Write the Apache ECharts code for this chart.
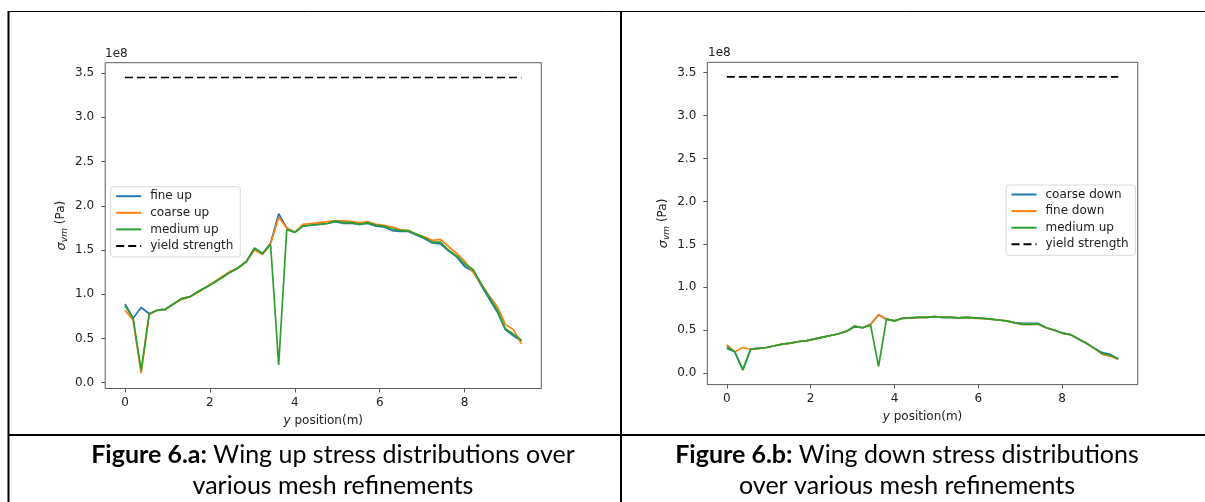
<!DOCTYPE html>
<html>
<head>
<meta charset="utf-8">
<script src="https://cdn.jsdelivr.net/npm/echarts@6/dist/echarts.min.js"></script>
<style>
html, body { margin: 0; padding: 0; background: #fff; }
#chart { width: 1205px; height: 502px; }
</style>
</head>
<body>
<div id="chart"></div>
<script>
// span positions (m)
const yPos = [0, 0.19, 0.38, 0.57, 0.76, 0.95, 1.14, 1.33, 1.52, 1.72,
  1.91, 2.10, 2.29, 2.48, 2.67, 2.86, 3.05, 3.24, 3.43, 3.62,
  3.81, 4.00, 4.19, 4.38, 4.57, 4.77, 4.96, 5.15, 5.34, 5.53,
  5.72, 5.91, 6.10, 6.29, 6.48, 6.67, 6.86, 7.05, 7.24, 7.43,
  7.62, 7.82, 8.01, 8.20, 8.39, 8.58, 8.77, 8.96, 9.15, 9.34]

// von Mises stress, in units of 1e8 Pa
const fineUp = [0.89, 0.73, 0.85, 0.78, 0.82, 0.83, 0.89, 0.95, 0.97, 1.03,
  1.08, 1.14, 1.19, 1.25, 1.30, 1.37, 1.52, 1.46, 1.58, 1.91,
  1.75, 1.70, 1.77, 1.78, 1.79, 1.80, 1.82, 1.80, 1.80, 1.79,
  1.80, 1.77, 1.76, 1.72, 1.71, 1.71, 1.67, 1.63, 1.58, 1.57,
  1.49, 1.42, 1.31, 1.26, 1.10, 0.95, 0.80, 0.60, 0.53, 0.47]
const coarseUp = [0.82, 0.71, 0.11, 0.77, 0.82, 0.83, 0.89, 0.94, 0.97, 1.02,
  1.08, 1.14, 1.20, 1.26, 1.30, 1.37, 1.50, 1.45, 1.57, 1.87,
  1.75, 1.70, 1.79, 1.80, 1.81, 1.82, 1.83, 1.83, 1.82, 1.81,
  1.82, 1.79, 1.78, 1.76, 1.73, 1.72, 1.68, 1.65, 1.61, 1.62,
  1.54, 1.46, 1.37, 1.25, 1.12, 0.98, 0.86, 0.66, 0.60, 0.44]
const mediumUp = [0.87, 0.73, 0.14, 0.78, 0.82, 0.83, 0.89, 0.95, 0.97, 1.03,
  1.08, 1.13, 1.19, 1.25, 1.30, 1.37, 1.52, 1.46, 1.56, 0.20,
  1.73, 1.70, 1.77, 1.78, 1.79, 1.80, 1.83, 1.81, 1.81, 1.79,
  1.81, 1.78, 1.77, 1.74, 1.72, 1.72, 1.68, 1.64, 1.59, 1.59,
  1.50, 1.43, 1.34, 1.28, 1.12, 0.97, 0.82, 0.61, 0.55, 0.48]

const coarseDown = [0.29, 0.25, 0.04, 0.28, 0.29, 0.30, 0.32, 0.34, 0.35, 0.37,
  0.38, 0.40, 0.42, 0.44, 0.46, 0.49, 0.54, 0.53, 0.57, 0.68,
  0.63, 0.61, 0.64, 0.645, 0.65, 0.65, 0.66, 0.65, 0.65, 0.645,
  0.65, 0.645, 0.64, 0.63, 0.62, 0.61, 0.59, 0.58, 0.58, 0.58,
  0.53, 0.50, 0.47, 0.45, 0.40, 0.35, 0.29, 0.24, 0.22, 0.165]
const fineDown = [0.33, 0.25, 0.30, 0.28, 0.29, 0.30, 0.32, 0.34, 0.35, 0.37,
  0.38, 0.40, 0.42, 0.44, 0.46, 0.49, 0.55, 0.53, 0.57, 0.68,
  0.63, 0.61, 0.64, 0.645, 0.65, 0.65, 0.66, 0.65, 0.65, 0.645,
  0.65, 0.64, 0.64, 0.63, 0.62, 0.61, 0.59, 0.57, 0.57, 0.57,
  0.53, 0.50, 0.465, 0.45, 0.40, 0.35, 0.29, 0.22, 0.20, 0.165]
const mediumDown = [0.31, 0.25, 0.04, 0.28, 0.29, 0.30, 0.32, 0.34, 0.35, 0.37,
  0.38, 0.40, 0.42, 0.44, 0.46, 0.49, 0.55, 0.53, 0.56, 0.08,
  0.63, 0.61, 0.64, 0.645, 0.65, 0.65, 0.66, 0.65, 0.65, 0.645,
  0.65, 0.645, 0.64, 0.63, 0.62, 0.61, 0.59, 0.57, 0.57, 0.575,
  0.53, 0.50, 0.465, 0.45, 0.40, 0.35, 0.29, 0.23, 0.21, 0.165]

const yieldStrength = 3.45
const xTicks = [0, 2, 4, 6, 8]
const yTicks = [0, 0.5, 1, 1.5, 2, 2.5, 3, 3.5]

const blue = '#1f77b4'
const orange = '#ff7f0e'
const green = '#2ca02c'
const ink = '#222'

const pairs = (vals) => yPos.map((x, i) => [x, vals[i]])
const yieldLine = [[yPos[0], yieldStrength], [yPos[yPos.length - 1], yieldStrength]]

const myChart = echarts.init(document.getElementById('chart'))

const makeX = (gridIndex) => ({
  type: 'value',
  gridIndex,
  min: -0.467,
  max: 9.807,
  splitLine: { show: false },
  axisLine: { show: false, onZero: false },
  axisTick: { show: true, customValues: xTicks, length: 4, lineStyle: { color: '#333', width: 0.8 } },
  axisLabel: { customValues: xTicks, margin: 8, color: ink, fontSize: 12, fontFamily: 'DejaVu Sans' },
  name: '{i|y} position(m)',
  nameLocation: 'middle',
  nameGap: 26,
  nameTextStyle: {
    color: ink,
    fontSize: 12,
    fontFamily: 'DejaVu Sans',
    rich: { i: { fontStyle: 'italic', fontSize: 12, fontFamily: 'DejaVu Sans', color: ink } },
  },
})

const makeY = (gridIndex, min, max) => ({
  type: 'value',
  gridIndex,
  min,
  max,
  splitLine: { show: false },
  axisLine: { show: false, onZero: false },
  axisTick: { show: true, customValues: yTicks, length: 4, lineStyle: { color: '#333', width: 0.8 } },
  axisLabel: {
    customValues: yTicks,
    margin: 11,
    color: ink,
    fontSize: 12,
    fontFamily: 'DejaVu Sans',
    formatter: (v) => v.toFixed(1),
  },
  name: '{s|σ}{sub|vm} (Pa)',
  nameLocation: 'middle',
  nameRotate: 90,
  nameGap: 36,
  nameTextStyle: {
    color: ink,
    fontSize: 12,
    fontFamily: 'DejaVu Sans',
    rich: {
      s: { fontStyle: 'italic', fontSize: 13, fontFamily: 'DejaVu Sans', color: ink, lineHeight: 16 },
      sub: { fontStyle: 'italic', fontSize: 9, fontFamily: 'DejaVu Sans', color: ink, verticalAlign: 'bottom', lineHeight: 10 },
    },
  },
})

const lineSeries = (name, color, vals, idx) => ({
  name,
  type: 'line',
  xAxisIndex: idx,
  yAxisIndex: idx,
  data: pairs(vals),
  symbol: 'none',
  animation: false,
  lineStyle: { color, width: 1.7 },
  itemStyle: { color },
})

const yieldSeries = (idx) => ({
  name: 'yield strength',
  type: 'line',
  xAxisIndex: idx,
  yAxisIndex: idx,
  data: yieldLine,
  symbol: 'none',
  animation: false,
  lineStyle: { color: '#000', width: 1.7, type: [8, 4] },
  itemStyle: { color: '#000' },
})

const legendBase = {
  orient: 'vertical',
  itemWidth: 25,
  itemHeight: 14,
  itemGap: 4.6,
  padding: [3.5, 7, 5, 4.5],
  borderColor: '#d9d9d9',
  borderWidth: 1,
  borderRadius: 3,
  backgroundColor: 'rgba(255,255,255,0.8)',
  selectedMode: false,
  itemStyle: { opacity: 0 },
  textStyle: { color: ink, fontSize: 12, fontFamily: 'DejaVu Sans', padding: [0, 0, 0, 4] },
}

const tableLine = (x1, y1, x2, y2, w) => ({
  type: 'line',
  shape: { x1, y1, x2, y2 },
  style: { stroke: '#000', lineWidth: w },
  silent: true,
})

const caption = (x, bold, rest1, rest2) => ({
  type: 'text',
  x,
  y: 470,
  silent: true,
  style: {
    text: `{b|${bold}}{n|${rest1}}\n{n|${rest2}}`,
    align: 'center',
    verticalAlign: 'middle',
    rich: {
      b: { fontFamily: 'Lato', fontWeight: 'bold', fontSize: 25, fill: '#000', lineHeight: 31 },
      n: { fontFamily: 'Lato', fontSize: 25, fill: '#000', lineHeight: 31 },
    },
  },
})

const option = {
  backgroundColor: '#fff',
  animation: false,
  grid: [
    { left: 105.2, top: 62.7, width: 436.1, height: 325.8, show: true, borderColor: '#333', borderWidth: 0.8, outerBoundsMode: 'none' },
    { left: 707.3, top: 62.3, width: 430.5, height: 322.3, show: true, borderColor: '#333', borderWidth: 0.8, outerBoundsMode: 'none' },
  ],
  xAxis: [makeX(0), makeX(1)],
  yAxis: [makeY(0, -0.065, 3.617), makeY(1, -0.132, 3.62)],
  legend: [
    Object.assign({}, legendBase, { left: 110.7, top: 186.7, data: ['fine up', 'coarse up', 'medium up', 'yield strength'] }),
    Object.assign({}, legendBase, { left: 1006, top: 185, data: ['coarse down', 'fine down', 'medium up', 'yield strength'] }),
  ],
  series: [
    lineSeries('fine up', blue, fineUp, 0),
    lineSeries('coarse up', orange, coarseUp, 0),
    lineSeries('medium up', green, mediumUp, 0),
    yieldSeries(0),
    lineSeries('coarse down', blue, coarseDown, 1),
    lineSeries('fine down', orange, fineDown, 1),
    lineSeries('medium up', green, mediumDown, 1),
    yieldSeries(1),
  ],
  graphic: [
    tableLine(8, 11.5, 1205, 11.5, 1),
    tableLine(8.5, 11, 8.5, 502, 2),
    tableLine(621, 11, 621, 502, 2),
    tableLine(8, 435, 1205, 435, 2),
    { type: 'text', x: 105, y: 48, silent: true, style: { text: '1e8', fill: ink, font: '12px "DejaVu Sans"' } },
    { type: 'text', x: 708, y: 47, silent: true, style: { text: '1e8', fill: ink, font: '12px "DejaVu Sans"' } },
    caption(333, 'Figure 6.a:', ' Wing up stress distributions over', 'various mesh refinements'),
    caption(907, 'Figure 6.b:', ' Wing down stress distributions', 'over various mesh refinements'),
  ],
}

myChart.setOption(option)
</script>
</body>
</html>
